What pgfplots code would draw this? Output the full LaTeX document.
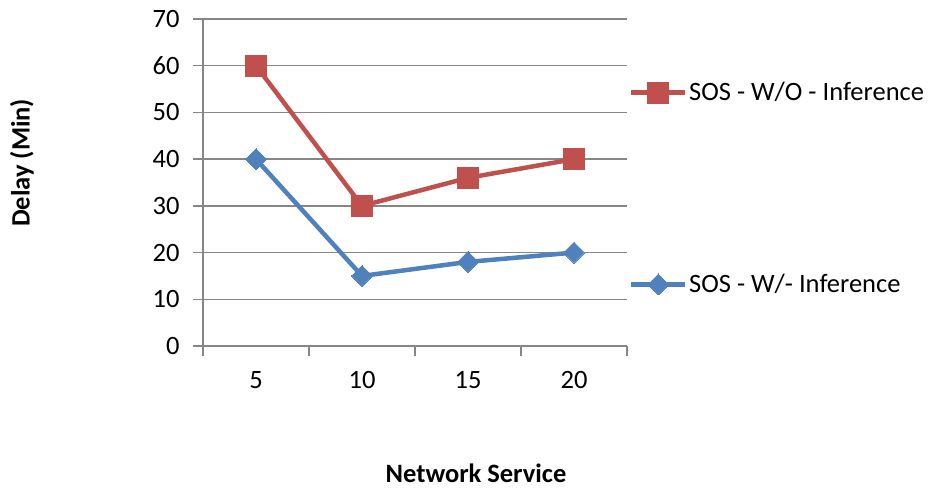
\documentclass[border=0pt]{standalone}
\usepackage{pgfplots}
\pgfplotsset{compat=1.18}
\usepackage{fontspec}
\setmainfont{Carlito}
\definecolor{xred}{HTML}{C0504D}
\definecolor{xblue}{HTML}{4F81BD}
\definecolor{xgrid}{HTML}{868686}
\begin{document}
\begin{tikzpicture}
\useasboundingbox (0,0) rectangle (928bp,489bp);
\begin{axis}[
  at={(203bp,143bp)}, anchor=south west,
  scale only axis, width=424bp, height=327bp,
  xmin=0.5, xmax=4.5, ymin=0, ymax=70,
  axis x line*=bottom, axis y line*=left,
  axis line style={xgrid, line width=1.5bp, -},
  xtick={1,2,3,4}, xticklabels={5,10,15,20},
  minor xtick={0.5,1.5,2.5,3.5,4.5},
  ytick={0,10,...,70},
  major x tick style={draw=none},
  minor tick length=10bp, major tick length=10bp,
  tick align=outside,
  tick style={xgrid, line width=1.5bp},
  ymajorgrids, grid style={xgrid, line width=1.5bp},
  /pgf/number format/assume math mode=true,
  tick label style={font=\fontsize{26.5bp}{32bp}\selectfont, text=black},
  yticklabel style={xshift=-10bp},
  xticklabel style={yshift=-12bp},
  xlabel={\textbf{Network Service}},
  ylabel={\textbf{Delay (Min)}},
  label style={font=\fontsize{26.5bp}{32bp}\selectfont},
  xlabel style={at={(axis description cs:0.644,-0.39)}, anchor=center},
  ylabel style={at={(axis description cs:-0.427,0.56)}, anchor=center, rotate=0},
  legend style={at={(axis description cs:1.0047,0.4817)}, anchor=west, draw=none, fill=none,
    font=\fontsize{26.5bp}{32bp}\selectfont, row sep=169bp, inner sep=0pt,
    nodes={inner sep=1.5bp}},
  legend cell align=left,
  legend image code/.code={\draw[mark repeat=2,mark phase=2,#1] plot coordinates {(0bp,0bp) (27bp,0bp) (54bp,0bp)};},
  clip=false,
]
\addplot[color=xred, line width=4.5bp, mark=square*, mark size=10.5bp, mark options={solid, fill=xred, line width=0bp}]
  coordinates {(1,60) (2,30) (3,36) (4,40)};
\addlegendentry{SOS - W/O - Inference}
\addplot[color=xblue, line width=4.5bp, mark=square*, mark size=7.4bp, mark options={solid, fill=xblue, line width=0bp, rotate=45}]
  coordinates {(1,40) (2,15) (3,18) (4,20)};
\addlegendentry{SOS - W/- Inference}
\end{axis}
\end{tikzpicture}
\end{document}
